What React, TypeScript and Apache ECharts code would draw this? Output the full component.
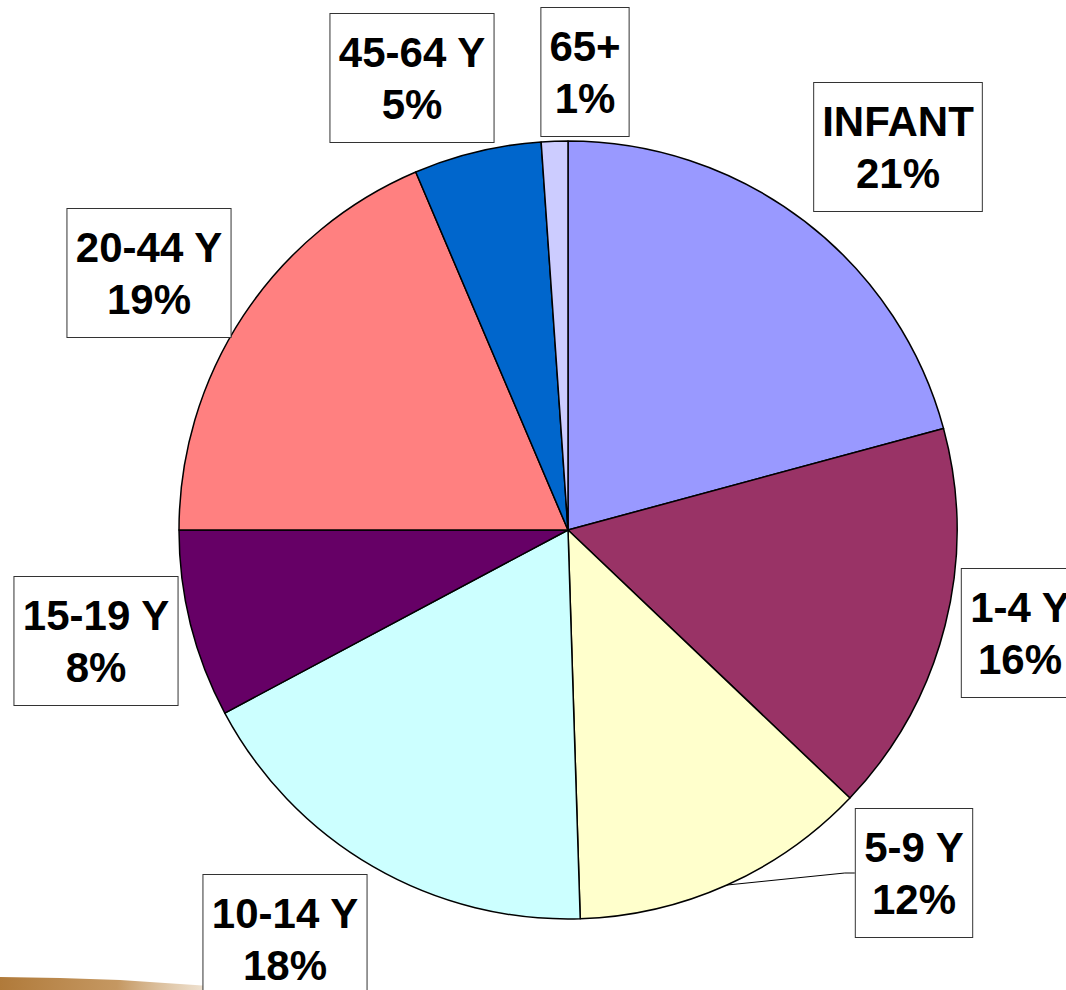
import React, { useEffect, useRef } from "react";
import * as echarts from "echarts";

const categories = ["INFANT", "1-4 Y", "5-9 Y", "10-14 Y", "15-19 Y", "20-44 Y", "45-64 Y", "65+"];
const values = [20.8, 16.3, 12.4, 17.7, 7.8, 18.6, 5.3, 1.1];
const colors = ["#9999FF", "#993366", "#FFFFCC", "#CCFFFF", "#660066", "#FF8080", "#0066CC", "#CCCCFF"];
// label box centres (layout only)
const labelCentres: [number, number][] = [
  [898, 147],
  [1020, 633],
  [914, 873],
  [285, 939],
  [96, 641],
  [149, 273],
  [412, 78],
  [585, 72],
];

export default function App() {
  const ref = useRef<HTMLDivElement>(null);
  useEffect(() => {
    if (!ref.current) return;
    const chart = echarts.init(ref.current, null, { renderer: "svg" });
    chart.setOption({
      animation: false,
      backgroundColor: "#ffffff",
      graphic: [
        {
          type: "polygon",
          silent: true,
          shape: {
            points: [
              [0, 977], [60, 978], [120, 980], [180, 984], [240, 988], [260, 990], [0, 990],
            ],
          },
          style: {
            fill: new echarts.graphic.LinearGradient(0, 0, 1, 0, [
              { offset: 0, color: "rgba(176,122,58,1)" },
              { offset: 0.45, color: "rgba(190,140,80,0.9)" },
              { offset: 1, color: "rgba(220,190,150,0)" },
            ]),
          },
        },
      ],
      series: [
        {
          type: "pie",
          center: [568, 530],
          radius: 389,
          startAngle: 90,
          clockwise: true,
          percentPrecision: 0,
          avoidLabelOverlap: false,
          itemStyle: { borderColor: "#000000", borderWidth: 1.5 },
          emphasis: { disabled: true },
          label: {
            show: true,
            position: "outside",
            formatter: "{b}\n{d}%",
            fontFamily: "Liberation Sans, Arial, sans-serif",
            fontWeight: "bold",
            fontSize: 42,
            lineHeight: 52,
            color: "#000000",
            backgroundColor: "#ffffff",
            borderColor: "#333333",
            borderWidth: 1,
            padding: [12, 8, 12, 8],
            align: "center",
          },
          labelLine: { show: false },
          labelLayout: (params: any) => {
            const c = labelCentres[params.dataIndex];
            return { x: c[0], y: c[1], align: "center", verticalAlign: "middle" };
          },
          data: categories.map((name, i) => ({
            name,
            value: values[i],
            itemStyle: { color: colors[i] },
            labelLine:
              name === "5-9 Y"
                ? { show: true, length: 10, length2: 10, smooth: false, lineStyle: { color: "#000000", width: 1 } }
                : { show: false },
          })),
        },
      ],
    });
    return () => chart.dispose();
  }, []);
  return <div ref={ref} style={{ position: "fixed", left: 0, top: 0, width: 1066, height: 990 }} />;
}
